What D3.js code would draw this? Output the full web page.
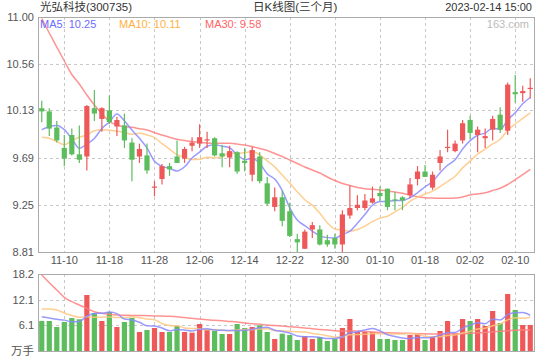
<!DOCTYPE html>
<html><head><meta charset="utf-8">
<script src="https://cdn.jsdelivr.net/npm/d3@7/dist/d3.min.js"></script>
<style>
body{margin:0;background:#fff;}
svg{display:block;}
text{font-family:"Liberation Sans",Arial,"Noto Sans CJK SC",sans-serif;}
</style>
</head><body>
<svg id="c" width="540" height="360"></svg>
<script>
const title = "光弘科技(300735)";
const subtitle = "日K线图(三个月)";
const stamp = "2023-02-14 15:00";
const watermark = "163.com";

const dates = ["11-07","11-08","11-09","11-10","11-11","11-14","11-15","11-16","11-17","11-18","11-21","11-22","11-23","11-24","11-25","11-28","11-29","11-30",
"12-01","12-02","12-05","12-06","12-07","12-08","12-09","12-12","12-13","12-14","12-15","12-16","12-19","12-20","12-21","12-22","12-23","12-26","12-27","12-28","12-29","12-30",
"01-03","01-04","01-05","01-06","01-09","01-10","01-11","01-12","01-13","01-16","01-17","01-18","01-19","01-20","01-30","01-31",
"02-01","02-02","02-03","02-06","02-07","02-08","02-09","02-10","02-13","02-14"];

const openP  = [10.15,10.12,9.97,9.78,9.90,9.72,9.70,10.15,10.05,10.13,9.98,9.99,9.83,9.70,9.71,9.41,9.49,9.61,9.70,9.68,9.80,9.82,9.85,9.87,9.73,9.69,9.74,9.66,9.53,9.70,9.45,9.23,9.32,9.19,8.93,8.84,9.02,9.02,8.92,8.94,8.88,9.15,9.22,9.22,9.27,9.36,9.40,9.30,9.32,9.34,9.49,9.56,9.41,9.64,9.78,9.75,9.85,10.04,9.90,9.87,9.95,10.09,9.94,10.30,10.29,10.33];
const highP  = [10.22,10.15,10.03,9.90,9.96,9.99,10.18,10.32,10.16,10.27,10.07,10.10,9.87,9.82,9.82,9.47,9.63,9.64,9.85,9.79,9.88,10.00,9.93,9.88,9.81,9.80,9.75,9.78,9.79,9.74,9.51,9.41,9.38,9.27,8.98,9.02,9.09,9.06,8.97,8.98,9.20,9.43,9.34,9.35,9.42,9.42,9.40,9.37,9.33,9.50,9.61,9.62,9.56,9.76,9.95,9.85,10.04,10.08,9.98,9.96,10.08,10.16,10.39,10.46,10.36,10.43];
const lowP   = [10.02,9.89,9.83,9.61,9.71,9.64,9.57,10.03,9.93,10.00,9.89,9.78,9.47,9.64,9.54,9.33,9.44,9.52,9.64,9.64,9.75,9.78,9.78,9.70,9.60,9.60,9.54,9.56,9.47,9.45,9.24,9.19,9.05,8.95,8.81,8.84,8.94,8.87,8.86,8.84,8.81,9.12,9.20,9.20,9.26,9.28,9.20,9.20,9.20,9.31,9.43,9.51,9.39,9.57,9.74,9.74,9.82,9.86,9.74,9.78,9.85,9.92,9.90,10.20,10.21,10.24];
const closeP = [10.12,9.96,9.85,9.68,9.72,9.67,10.17,10.10,10.15,10.02,10.04,9.85,9.67,9.77,9.57,9.42,9.61,9.58,9.64,9.77,9.83,9.88,9.86,9.71,9.70,9.75,9.56,9.64,9.76,9.47,9.26,9.32,9.10,8.96,8.90,9.00,9.06,8.88,8.88,8.88,9.16,9.22,9.25,9.29,9.31,9.33,9.23,9.29,9.29,9.44,9.56,9.51,9.53,9.70,9.79,9.82,10.01,9.92,9.95,9.89,10.05,9.95,10.37,10.28,10.31,10.34];

const ma5  = [9.95,9.98,9.99,9.95,9.866,9.776,9.818,9.868,9.962,10.022,10.096,10.032,9.946,9.87,9.78,9.656,9.608,9.59,9.564,9.604,9.686,9.74,9.796,9.81,9.796,9.78,9.716,9.672,9.682,9.636,9.538,9.49,9.382,9.222,9.108,9.056,9.004,8.96,8.944,8.94,8.972,9.004,9.078,9.16,9.246,9.28,9.282,9.29,9.29,9.316,9.362,9.418,9.466,9.548,9.618,9.67,9.77,9.848,9.898,9.918,9.964,9.952,10.042,10.108,10.192,10.25];
const ma10 = [9.88,9.87,9.84,9.81,9.85,9.88,9.90,9.94,9.95,9.944,9.936,9.925,9.907,9.916,9.901,9.876,9.82,9.768,9.717,9.692,9.671,9.674,9.693,9.687,9.70,9.733,9.728,9.734,9.746,9.716,9.659,9.603,9.527,9.452,9.372,9.297,9.247,9.171,9.083,9.024,9.014,9.004,9.019,9.052,9.093,9.126,9.143,9.184,9.225,9.281,9.321,9.35,9.378,9.419,9.467,9.516,9.594,9.657,9.723,9.768,9.817,9.861,9.945,10.003,10.055,10.107];
const ma30 = [10.986,10.851,10.72,10.59,10.464,10.376,10.273,10.18,10.10,10.026,9.994,9.978,9.972,9.959,9.947,9.922,9.90,9.879,9.86,9.849,9.84,9.832,9.826,9.823,9.823,9.823,9.816,9.807,9.793,9.775,9.756,9.728,9.70,9.667,9.635,9.602,9.574,9.546,9.509,9.476,9.448,9.43,9.411,9.40,9.394,9.388,9.378,9.369,9.357,9.341,9.325,9.316,9.313,9.31,9.31,9.313,9.323,9.341,9.351,9.363,9.383,9.404,9.439,9.485,9.532,9.581];

const volume = [7.09,7.09,5.67,6.86,7.80,7.49,13.24,8.98,7.09,9.22,5.67,6.86,7.80,4.49,4.96,5.44,4.49,4.49,5.91,4.49,4.33,6.38,5.04,4.73,4.02,4.02,6.38,5.44,5.67,6.07,4.49,2.84,4.10,3.78,2.60,3.55,2.84,3.31,2.36,2.84,5.44,7.56,4.49,4.49,4.49,2.84,2.84,2.60,2.60,3.78,4.02,2.60,3.31,4.73,7.09,4.10,7.56,7.09,7.56,5.91,9.46,6.62,13.47,9.69,6.15,6.15];
const volMa5  = [8.1,7.8,7.5,7.3,6.90,6.98,8.21,8.87,8.92,9.20,8.84,7.56,7.33,6.81,5.96,5.91,5.44,4.77,5.06,4.96,4.74,5.12,5.23,4.99,4.90,4.84,4.84,4.92,5.11,5.52,5.61,4.90,4.63,4.26,3.56,3.37,3.37,3.22,2.93,2.98,3.36,4.30,4.54,4.96,5.29,4.77,3.83,3.45,3.07,2.93,3.17,3.12,3.26,3.69,4.35,4.37,5.36,6.11,6.68,6.44,7.52,7.33,8.60,9.03,9.08,8.42];
const volMa10 = [9.9,9.9,9.7,9.0,8.4,8.0,8.1,8.0,8.0,8.05,7.91,7.89,8.10,7.87,7.58,7.38,6.50,6.05,5.94,5.46,5.33,5.28,5.00,5.03,4.93,4.79,4.98,5.08,5.05,5.21,5.23,4.87,4.78,4.69,4.54,4.49,4.14,3.93,3.60,3.27,3.37,3.84,3.88,3.95,4.14,4.07,4.07,4.00,4.02,4.11,3.97,3.48,3.36,3.38,3.64,3.77,4.24,4.69,5.19,5.40,5.95,6.35,7.36,7.86,7.76,7.97];
const volMa30 = [17.96,16.15,14.42,12.69,11.66,10.87,10.09,9.29,8.91,8.67,8.5,8.45,8.4,8.4,8.35,8.3,8.25,8.2,8.1,7.9,7.75,7.55,7.4,7.25,7.15,7.0,6.85,6.6,6.45,6.3,6.15,6.0,5.9,5.75,5.6,5.45,5.25,5.1,4.95,4.8,4.75,4.75,4.73,4.6,4.5,4.4,4.3,4.25,4.2,4.15,4.1,4.05,4.0,4.0,4.05,4.05,4.1,4.2,4.3,4.4,4.55,4.65,4.8,4.9,4.95,5.0];

const priceTicks = [8.81, 9.25, 9.69, 10.13, 10.56, 11.00];
const volTicks = [6.1, 12.1, 18.2];
const volUnit = "万手";
const dateTicks = ["11-10","11-18","11-28","12-06","12-14","12-22","12-30","01-10","01-18","02-02","02-10"];
const legendItems = [
  {label:"MA5", value:"10.25"},
  {label:"MA10", value:"10.11"},
  {label:"MA30", value:"9.58"}
];

// ---------- drawing ----------
const UP = "#ee5858", DOWN = "#5cbd5c";
const C5 = "#8a8aff", C10 = "#ffc57f", C30 = "#ff8080";
const L = 38, R = 534, T = 17, B = 252, VT = 274, VB = 351;
const svg = d3.select("#c");

const x = d3.scaleBand().domain(d3.range(dates.length)).range([L, R]);
const cx = i => x(i) + x.bandwidth() / 2;
const y = d3.scaleLinear().domain([priceTicks[0], priceTicks[priceTicks.length - 1]]).range([B, T]);
const yv = d3.scaleLinear().domain([0, volTicks[volTicks.length - 1]]).range([VB, VT]);
const tickIdx = dateTicks.map(d => dates.indexOf(d));

const defs = svg.append("defs");
defs.append("clipPath").attr("id", "cp").append("rect").attr("x", L).attr("y", T).attr("width", R - L).attr("height", B - T);
defs.append("clipPath").attr("id", "cv").append("rect").attr("x", L).attr("y", VT).attr("width", R - L).attr("height", VB - VT);

// grid
const grid = svg.append("g").attr("stroke", "#c8c8c8").attr("stroke-dasharray", "3,3").attr("stroke-width", 1);
priceTicks.slice(1, -1).forEach(v => {
  const yy = Math.round(y(v)) + 0.5;
  grid.append("line").attr("x1", L).attr("x2", R).attr("y1", yy).attr("y2", yy);
});
volTicks.slice(0, -1).forEach(v => {
  const yy = Math.round(yv(v)) + 0.5;
  grid.append("line").attr("x1", L).attr("x2", R).attr("y1", yy).attr("y2", yy);
});
tickIdx.forEach(i => {
  const xx = Math.round(cx(i)) + 0.5;
  grid.append("line").attr("x1", xx).attr("x2", xx).attr("y1", T).attr("y2", B);
  grid.append("line").attr("x1", xx).attr("x2", xx).attr("y1", VT).attr("y2", VB);
});

// frames
svg.append("rect").attr("x", L + 0.5).attr("y", T + 0.5).attr("width", R - L).attr("height", B - T)
  .attr("fill", "none").attr("stroke", "#aaa");
svg.append("rect").attr("x", L + 0.5).attr("y", VT + 0.5).attr("width", R - L).attr("height", VB - VT)
  .attr("fill", "none").attr("stroke", "#aaa");

// axes
const fmt2 = d3.format(".2f"), fmt1 = d3.format(".1f");
const ay = svg.append("g").attr("transform", `translate(${L},0)`)
  .call(d3.axisLeft(y).tickValues(priceTicks).tickFormat(fmt2).tickSize(0).tickPadding(4));
const ax = svg.append("g").attr("transform", `translate(0,${B})`)
  .call(d3.axisBottom(x).tickValues(tickIdx).tickFormat(i => dates[i]).tickSize(0).tickPadding(4));
const av = svg.append("g").attr("transform", `translate(${L},0)`)
  .call(d3.axisLeft(yv).tickValues(volTicks).tickFormat(fmt1).tickSize(0).tickPadding(4));
[ay, ax, av].forEach(g => {
  g.select(".domain").remove();
  g.selectAll("text").attr("fill", "#555").style("font-size", "11px")
    .style("font-family", '"Liberation Sans",Arial,sans-serif');
});
svg.append("text").attr("x", L - 4).attr("y", 355).attr("text-anchor", "end")
  .attr("fill", "#555").style("font-size", "11.5px").text(volUnit);

// volume bars
svg.append("g").attr("clip-path", "url(#cv)").selectAll("rect").data(volume).join("rect")
  .attr("x", (d, i) => cx(i) - 2.6).attr("width", 5.2)
  .attr("y", d => yv(d)).attr("height", d => VB - yv(d))
  .attr("fill", (d, i) => closeP[i] >= openP[i] ? UP : DOWN);

// volume MA lines
const vline = d3.line().x((d, i) => cx(i)).y(d => yv(d)).curve(d3.curveMonotoneX);
const gvl = svg.append("g").attr("clip-path", "url(#cv)").attr("fill", "none").attr("stroke-width", 1.5).attr("stroke-opacity", 0.85);
gvl.append("path").attr("d", vline(volMa30)).attr("stroke", C30);
gvl.append("path").attr("d", vline(volMa10)).attr("stroke", C10);
gvl.append("path").attr("d", vline(volMa5)).attr("stroke", C5);

// price MA lines
const pline = d3.line().x((d, i) => cx(i)).y(d => y(d)).curve(d3.curveMonotoneX);
const gpl = svg.append("g").attr("clip-path", "url(#cp)").attr("fill", "none").attr("stroke-width", 1.5).attr("stroke-opacity", 0.85);
gpl.append("path").attr("d", pline(ma30)).attr("stroke", C30);
gpl.append("path").attr("d", pline(ma10)).attr("stroke", C10);
gpl.append("path").attr("d", pline(ma5)).attr("stroke", C5);

// candles
const gc = svg.append("g").attr("clip-path", "url(#cp)");
dates.forEach((d, i) => {
  const col = closeP[i] >= openP[i] ? UP : DOWN;
  const xc = cx(i);
  gc.append("line").attr("x1", xc).attr("x2", xc).attr("y1", y(highP[i])).attr("y2", y(lowP[i]))
    .attr("stroke", col).attr("stroke-width", 1.2);
  const top = y(Math.max(openP[i], closeP[i])), bot = y(Math.min(openP[i], closeP[i]));
  gc.append("rect").attr("x", xc - 2.6).attr("width", 5.2)
    .attr("y", top).attr("height", Math.max(1.2, bot - top)).attr("fill", col);
});

// header
const hdr = svg.append("g").attr("fill", "#333").style("font-size", "11.5px");
hdr.append("text").attr("x", 40).attr("y", 11).text(title);
hdr.append("text").attr("x", 253).attr("y", 11).text(subtitle);
hdr.append("text").attr("x", 532).attr("y", 11).attr("text-anchor", "end")
  .style("font-size", "11px").text(stamp);

// legend
const legCols = ["#6b6bff", "#ffb040", "#ff6464"];
const legX = [40, 119, 205];
legendItems.forEach((it, k) => {
  svg.append("text").attr("x", legX[k]).attr("y", 27.5)
    .attr("fill", legCols[k]).style("font-size", "11px").text(`${it.label}: ${it.value}`);
});
svg.append("text").attr("x", 529).attr("y", 27.5).attr("text-anchor", "end")
  .attr("fill", "#bbb").style("font-size", "11px").text(watermark);
</script>
</body></html>
